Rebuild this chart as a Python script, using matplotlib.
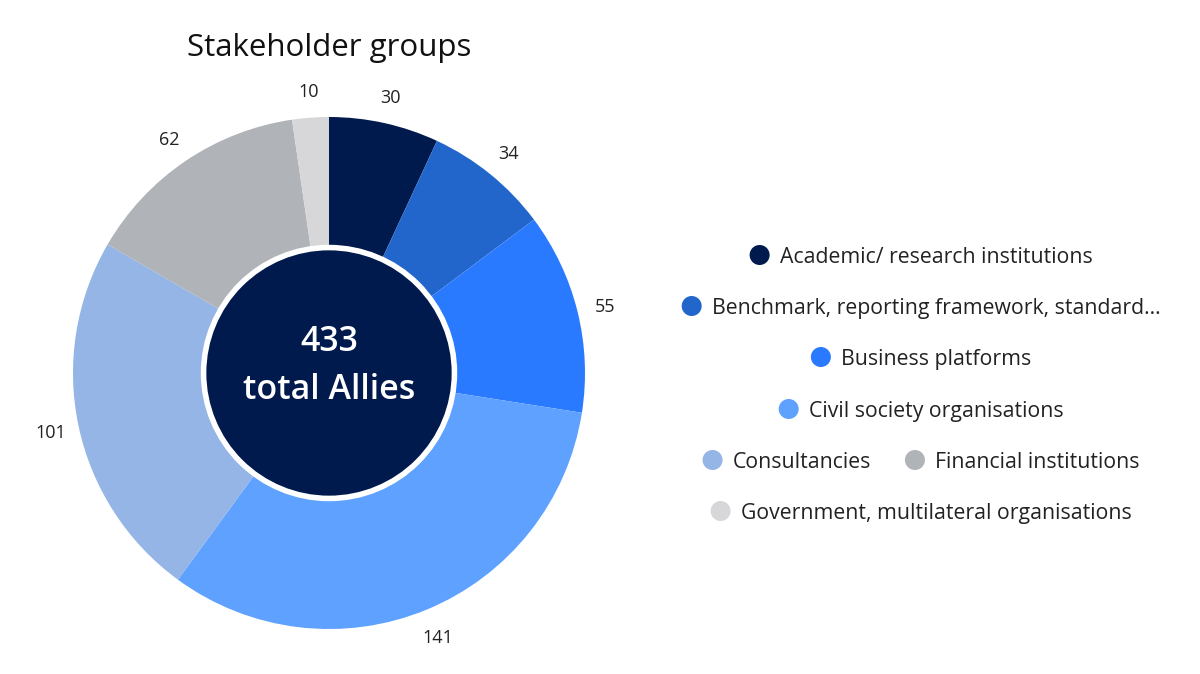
import matplotlib
matplotlib.use("Agg")
import matplotlib.pyplot as plt
from matplotlib.patches import Circle

categories = ["Academic/ research institutions",
              "Benchmark, reporting framework, standard...",
              "Business platforms",
              "Civil society organisations",
              "Consultancies",
              "Financial institutions",
              "Government, multilateral organisations"]
values = [30, 34, 55, 141, 101, 62, 10]
colors = ["#001a4d", "#2266cc", "#2a7aff", "#5ea1ff", "#94b5e5", "#b0b3b8", "#d7d7d9"]
title = "Stakeholder groups"
center_lines = ["433", "total Allies"]
legend_rows = [[0], [1], [2], [3], [4, 5], [6]]

plt.rcParams['font.family'] = ['Open Sans', 'DejaVu Sans']

W, H = 1200, 674
fig = plt.figure(figsize=(W / 100, H / 100), dpi=100)

cx, cy, R = 329, 373, 256
ax = fig.add_axes([(cx - R) / W, (H - cy - R) / H, 2 * R / W, 2 * R / H])
wedges, texts = ax.pie(values, colors=colors, startangle=90, counterclock=False,
                       labels=[str(v) for v in values], labeldistance=1.11,
                       radius=1.0, wedgeprops=dict(linewidth=0),
                       textprops=dict(fontsize=13, color="#222222"))
for t in texts:
    t.set_ha("center")
    t.set_va("center_baseline")
ax.set_xlim(-1, 1)
ax.set_ylim(-1, 1)
ax.set_aspect("equal")
ax.axis("off")
ax.add_patch(Circle((0, 0), 0.49, facecolor="#001a4d", edgecolor="white", linewidth=4, zorder=5))
ax.text(0, 0.12, center_lines[0], color="white", fontsize=24.5, fontweight="semibold",
        ha="center", va="center", zorder=6)
ax.text(0, -0.065, center_lines[1], color="white", fontsize=24.5, fontweight="semibold",
        ha="center", va="center", zorder=6)

fig.text(cx / W, 1 - 48 / H, title, fontsize=22.5, ha="center", va="center", color="#111111")

lax = fig.add_axes([0, 0, 1, 1], facecolor="none")
lax.set_xlim(0, W)
lax.set_ylim(H, 0)
lax.axis("off")
renderer = fig.canvas.get_renderer()
row_y = [255, 306, 357, 409, 460, 511]
leg_cx = 921
msize = 20
gap_marker_text = 10
gap_items = 34
for ry, row in zip(row_y, legend_rows):
    items = []
    for i in row:
        t = lax.text(0, ry, categories[i], fontsize=15.3, ha="left", va="center_baseline",
                     color="#222222")
        w = t.get_window_extent(renderer).width
        items.append((i, t, w))
    total = sum(msize + gap_marker_text + w for _, _, w in items) + gap_items * (len(items) - 1)
    x = leg_cx - total / 2
    for i, t, w in items:
        lax.add_patch(Circle((x + msize / 2, ry), msize / 2, facecolor=colors[i], edgecolor="none"))
        t.set_x(x + msize + gap_marker_text)
        x += msize + gap_marker_text + w + gap_items

fig.savefig("out.png", dpi=100, facecolor="white")
